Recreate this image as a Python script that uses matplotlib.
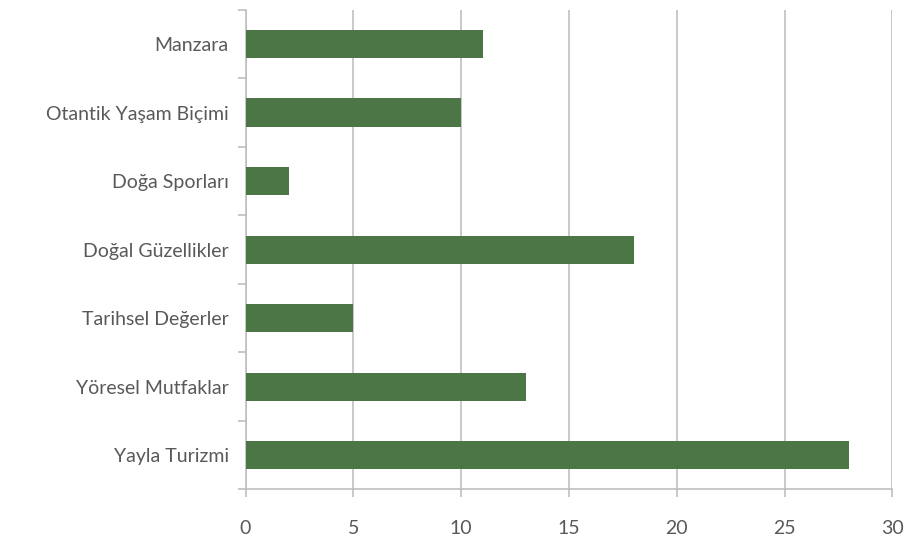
import numpy as np
import matplotlib.pyplot as plt

plt.rcParams['font.family'] = ['Lato', 'DejaVu Sans']

categories = ['Manzara', 'Otantik Yaşam Biçimi', 'Doğa Sporları', 'Doğal Güzellikler',
              'Tarihsel Değerler', 'Yöresel Mutfaklar', 'Yayla Turizmi']
values = [11, 10, 2, 18, 5, 13, 28]
x_ticks = [0, 5, 10, 15, 20, 25, 30]

bar_color = '#4c7646'
grid_color = '#c9c9c9'
text_color = '#595959'

fig = plt.figure(figsize=(9.06, 5.42), dpi=100)
ax = fig.add_axes([0.271, 0.097, 0.714, 0.885])

# bottom category first so Manzara ends up on top
ypos = np.arange(len(categories))[::-1]
ax.barh(ypos, values, height=0.41, color=bar_color, zorder=3)

ax.set_xlim(0, 30)
ax.set_ylim(-0.5, len(categories) - 0.5)
ax.set_xticks(x_ticks)
ax.set_yticks(ypos)
ax.set_yticklabels(categories)
ax.set_yticks(np.arange(len(categories) + 1) - 0.5, minor=True)

ax.grid(axis='x', color=grid_color, linewidth=1.4, zorder=0)
ax.set_axisbelow(True)

for s in ['top', 'right']:
    ax.spines[s].set_visible(False)
for s in ['left', 'bottom']:
    ax.spines[s].set_color('#bfbfbf')
    ax.spines[s].set_linewidth(1.2)

ax.tick_params(axis='y', which='major', length=0, pad=12, labelsize=14, labelcolor=text_color)
ax.tick_params(axis='y', which='minor', length=6, width=1.2, color='#bfbfbf')
ax.tick_params(axis='x', which='major', length=6, width=1.2, color='#bfbfbf',
               pad=16, labelsize=14, labelcolor=text_color)

fig.savefig('out.png', dpi=100)
